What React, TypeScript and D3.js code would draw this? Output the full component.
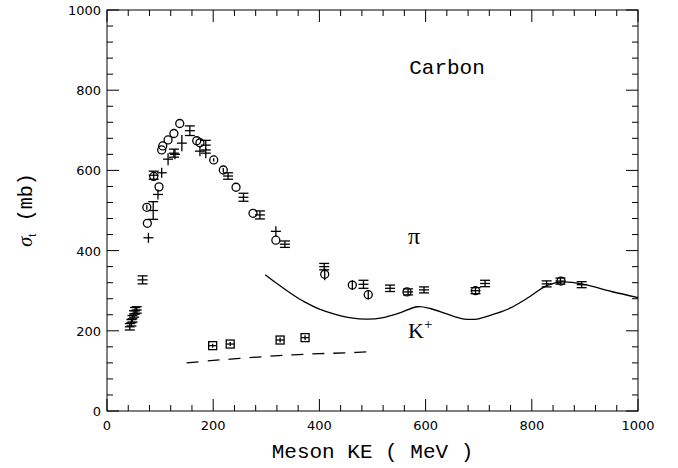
import React from 'react';
import * as d3 from 'd3';

// pion data, three experiments: [KE MeV, sigma mb, error mb]
const piCircles = [
  [75, 508, 6], [76, 468, 0], [88, 585, 0], [98, 559, 0], [103, 651, 0], [105, 661, 0],
  [115, 676, 0], [126, 692, 0], [137, 717, 0], [169, 674, 0], [175, 669, 0], [201, 626, 4],
  [219, 601, 5], [243, 558, 0], [275, 493, 0], [318, 426, 0], [410, 341, 15], [462, 314, 12],
  [492, 290, 12], [565, 297, 0], [694, 300, 0], [855, 324, 0]
];
const piCrosses = [
  [78, 432, 8], [96, 540, 8], [103, 594, 8], [115, 628, 15], [128, 640, 10], [141, 668, 20],
  [175, 648, 8], [186, 643, 8], [318, 448, 8]
];
const piBars = [
  [43, 210, 8], [46, 220, 8], [48, 230, 8], [51, 242, 8], [53, 250, 8], [56, 252, 8],
  [67, 327, 10], [87, 500, 22], [88, 588, 10], [126, 643, 10], [156, 699, 12], [186, 663, 12],
  [228, 586, 8], [257, 533, 10], [288, 489, 10], [335, 416, 8], [409, 360, 8], [483, 316, 10],
  [533, 306, 8], [567, 297, 6], [597, 302, 6], [694, 300, 6], [712, 318, 8], [828, 317, 6],
  [854, 324, 6], [894, 315, 6]
];
// K+ data
const kSquares = [[199, 163, 5], [232, 167, 5], [326, 177, 6], [373, 183, 6]];

// calculated curves
const piCurve = [
  [298, 340], [320, 318], [350, 290], [372, 272], [400, 254], [430, 241], [460, 232], [490, 229],
  [520, 233], [550, 244], [585, 260], [610, 255], [640, 242], [670, 230], [700, 230], [730, 242],
  [760, 257], [790, 280], [830, 314], [860, 322], [900, 315], [950, 298], [1000, 283]
];
const kCurve = [[150, 120], [200, 126], [250, 131], [300, 136], [350, 140], [400, 143], [450, 145], [500, 148]];

const xTicks = [0, 200, 400, 600, 800, 1000];
const yTicks = [0, 200, 400, 600, 800, 1000];

export default function App() {
  const left = 107, right = 638, top = 10, bottom = 411;
  const x = d3.scaleLinear().domain([0, 1000]).range([left, right]);
  const y = d3.scaleLinear().domain([0, 1000]).range([bottom, top]);
  const minor = d3.range(0, 1001, 40);

  const line = d3.line<number[]>().x(d => x(d[0])).y(d => y(d[1])).curve(d3.curveCatmullRom);

  const errBar = (d: number[], min = 0) => {
    const e = Math.max(y(d[1] - d[2]) - y(d[1]), min);
    return <line x1={x(d[0])} x2={x(d[0])} y1={y(d[1]) - e} y2={y(d[1]) + e} />;
  };

  const tickFont = { fontFamily: 'DejaVu Sans', fontSize: 13 };

  return (
    <svg width={678} height={468} style={{ position: 'absolute', left: 0, top: 0, background: '#fff' }}>
      <g stroke="#000" strokeWidth={1} fill="none">
        <rect x={left} y={top} width={right - left} height={bottom - top} />
        {minor.map(v => {
          const len = v % 200 === 0 ? 12 : 6;
          return (
            <g key={v}>
              <line x1={x(v)} x2={x(v)} y1={bottom} y2={bottom - len} />
              <line x1={x(v)} x2={x(v)} y1={top} y2={top + len} />
              <line x1={left} x2={left + len} y1={y(v)} y2={y(v)} />
              <line x1={right} x2={right - len} y1={y(v)} y2={y(v)} />
            </g>
          );
        })}
      </g>

      {xTicks.map(v => (
        <text key={'x' + v} x={x(v)} y={430} textAnchor="middle" {...tickFont}>{v}</text>
      ))}
      {yTicks.map(v => (
        <text key={'y' + v} x={101} y={y(v) + 5} textAnchor="end" {...tickFont}>{v}</text>
      ))}

      <text x={(left + right) / 2} y={458} textAnchor="middle" fontFamily="Liberation Mono" fontSize={21}>
        Meson KE ( MeV )
      </text>
      <text transform="translate(32,210) rotate(-90)" textAnchor="middle" fontSize={20}>
        <tspan fontFamily="Liberation Serif" fontStyle="italic">σ</tspan>
        <tspan fontFamily="Liberation Serif" fontSize={13} dy={4}>t</tspan>
        <tspan fontFamily="Liberation Mono" dy={-4}> (mb)</tspan>
      </text>
      <text x={447} y={74} textAnchor="middle" fontFamily="Liberation Mono" fontSize={21}>Carbon</text>
      <text x={414} y={244} textAnchor="middle" fontFamily="Liberation Serif" fontSize={24}>π</text>
      <text x={408} y={338} fontFamily="Liberation Serif" fontSize={22}>
        K<tspan fontSize={15} dy={-9}>+</tspan>
      </text>

      <g fill="none" stroke="#000" strokeWidth={1.3}>
        <path d={line(piCurve) || ''} />
        <path d={line(kCurve) || ''} strokeDasharray="12,9" />
      </g>

      <g stroke="#000" strokeWidth={1.3} fill="none">
        {piBars.map((d, i) => {
          const cx = x(d[0]), cy = y(d[1]);
          const e = Math.max(y(d[1] - d[2]) - cy, 3);
          return (
            <g key={'b' + i}>
              <line x1={cx} x2={cx} y1={cy - e} y2={cy + e} />
              <line x1={cx - 5} x2={cx + 5} y1={cy - e} y2={cy - e} />
              <line x1={cx - 5} x2={cx + 5} y1={cy + e} y2={cy + e} />
              <line x1={cx - 5} x2={cx + 5} y1={cy} y2={cy} />
            </g>
          );
        })}
        {piCrosses.map((d, i) => (
          <g key={'c' + i}>
            {errBar(d, 5)}
            <line x1={x(d[0]) - 5} x2={x(d[0]) + 5} y1={y(d[1])} y2={y(d[1])} />
          </g>
        ))}
        {piCircles.map((d, i) => (
          <g key={'o' + i}>
            {errBar(d)}
            <circle cx={x(d[0])} cy={y(d[1])} r={4} />
          </g>
        ))}
        {kSquares.map((d, i) => (
          <g key={'k' + i}>
            {errBar(d)}
            <rect x={x(d[0]) - 4} y={y(d[1]) - 4} width={8} height={8} />
            <line x1={x(d[0]) - 4} x2={x(d[0]) + 4} y1={y(d[1])} y2={y(d[1])} />
          </g>
        ))}
      </g>
    </svg>
  );
}
